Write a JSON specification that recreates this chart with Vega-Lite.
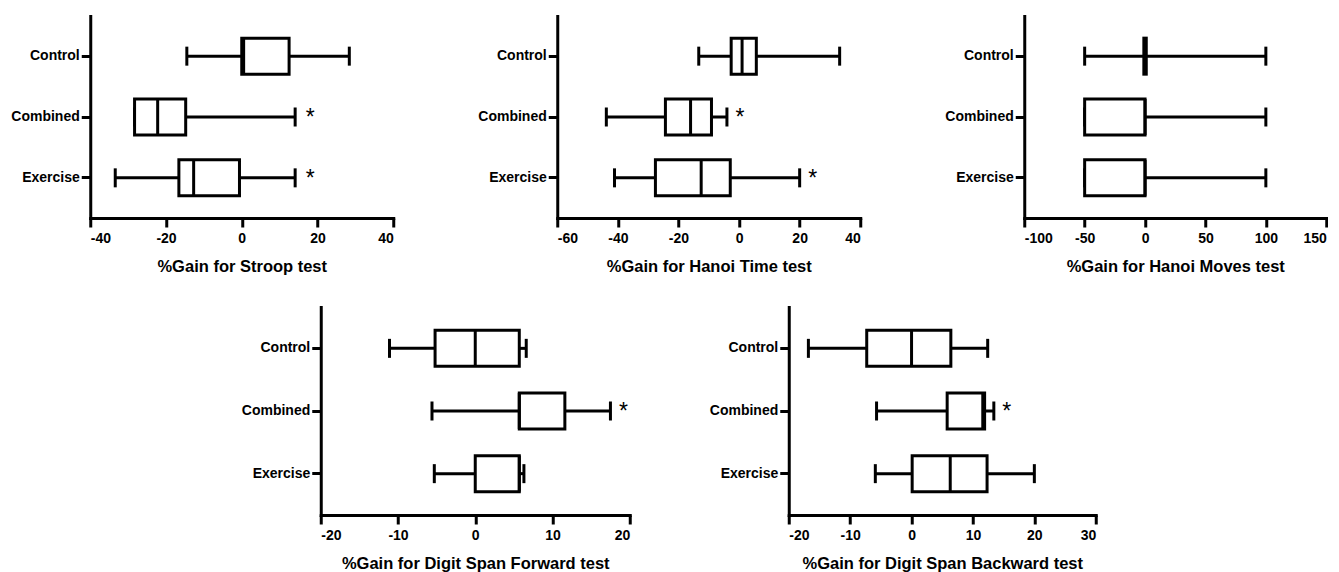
{
  "$schema": "https://vega.github.io/schema/vega-lite/v6.json",
  "padding": {"left": 10, "top": 16, "right": 0, "bottom": 0},
  "background": "white",
  "datasets": {
    "stats": [
      {"test": "Stroop", "group": "Control", "min": -14.5, "q1": 0, "median": 0.5, "q3": 12.5, "max": 28.4, "sig": false},
      {"test": "Stroop", "group": "Combined", "min": -28.3, "q1": -28.3, "median": -22.2, "q3": -14.8, "max": 14.1, "sig": true},
      {"test": "Stroop", "group": "Exercise", "min": -33.4, "q1": -16.6, "median": -12.7, "q3": -0.6, "max": 14.1, "sig": true},
      {"test": "HanoiTime", "group": "Control", "min": -13.3, "q1": -2.6, "median": 1.0, "q3": 5.7, "max": 33.2, "sig": false},
      {"test": "HanoiTime", "group": "Combined", "min": -43.8, "q1": -24.3, "median": -16.0, "q3": -9.1, "max": -4.0, "sig": true},
      {"test": "HanoiTime", "group": "Exercise", "min": -41.1, "q1": -27.6, "median": -12.5, "q3": -2.9, "max": 20.0, "sig": true},
      {"test": "HanoiMoves", "group": "Control", "min": -50, "q1": -1, "median": 0, "q3": 1, "max": 100, "sig": false},
      {"test": "HanoiMoves", "group": "Combined", "min": -50, "q1": -50, "median": 0, "q3": 0, "max": 100, "sig": false},
      {"test": "HanoiMoves", "group": "Exercise", "min": -50, "q1": -50, "median": 0, "q3": 0, "max": 100, "sig": false},
      {"test": "DSF", "group": "Control", "min": -11.1, "q1": -5.2, "median": 0, "q3": 5.7, "max": 6.6, "sig": false},
      {"test": "DSF", "group": "Combined", "min": -5.6, "q1": 5.7, "median": 5.7, "q3": 11.6, "max": 17.5, "sig": true},
      {"test": "DSF", "group": "Exercise", "min": -5.3, "q1": 0, "median": 5.7, "q3": 5.7, "max": 6.3, "sig": false},
      {"test": "DSB", "group": "Control", "min": -16.8, "q1": -7.3, "median": 0, "q3": 6.4, "max": 12.4, "sig": false},
      {"test": "DSB", "group": "Combined", "min": -5.7, "q1": 5.8, "median": 11.6, "q3": 11.9, "max": 13.4, "sig": true},
      {"test": "DSB", "group": "Exercise", "min": -5.9, "q1": 0.1, "median": 6.3, "q3": 12.3, "max": 20.0, "sig": false}
    ]
  },
  "config": {
    "view": {"stroke": null},
    "font": "Liberation Sans",
    "axis": {
      "domainColor": "black", "domainWidth": 3, "domainCap": "square",
      "tickColor": "black", "tickWidth": 3, "tickSize": 9,
      "labelColor": "black", "labelFont": "Liberation Sans", "labelFontSize": 14, "labelFontWeight": "bold",
      "titleColor": "black", "titleFont": "Liberation Sans", "titleFontSize": 16.5, "titleFontWeight": "bold",
      "grid": false
    },
    "axisX": {"labelPadding": 4, "titlePadding": 13, "labelExpr": "'' + datum.value"},
    "axisY": {"labelPadding": 2, "title": null}
  },
  "vconcat": [
    {
      "hconcat": [
        {
          "width": 303, "height": 202,
          "data": {"name": "stats"},
          "transform": [{"filter": "datum.test === 'Stroop'"}],
          "encoding": {"y": {"field": "group", "type": "nominal", "sort": ["Control", "Combined", "Exercise"], "scale": {"paddingInner": 0.4, "paddingOuter": 0.36}, "title": null}},
          "layer": [
            {"mark": {"type": "rule", "strokeWidth": 3, "color": "black"}, "encoding": {"x": {"field": "min", "type": "quantitative", "scale": {"domain": [-40, 40], "nice": false}, "axis": {"values": [-40, -20, 0, 20, 40]}, "title": "%Gain for Stroop test"}, "x2": {"field": "q1"}}},
            {"mark": {"type": "rule", "strokeWidth": 3, "color": "black"}, "encoding": {"x": {"field": "q3", "type": "quantitative", "title": "%Gain for Stroop test"}, "x2": {"field": "max"}}},
            {"mark": {"type": "tick", "size": 19, "thickness": 3, "color": "black", "opacity": 1}, "encoding": {"x": {"field": "min", "type": "quantitative", "title": "%Gain for Stroop test"}}},
            {"mark": {"type": "tick", "size": 19, "thickness": 3, "color": "black", "opacity": 1}, "encoding": {"x": {"field": "max", "type": "quantitative", "title": "%Gain for Stroop test"}}},
            {"mark": {"type": "bar", "size": 36, "fill": "white", "stroke": "black", "strokeWidth": 3}, "encoding": {"x": {"field": "q1", "type": "quantitative", "title": "%Gain for Stroop test"}, "x2": {"field": "q3"}}},
            {"mark": {"type": "tick", "size": 36, "thickness": 3, "color": "black", "opacity": 1}, "encoding": {"x": {"field": "median", "type": "quantitative", "title": "%Gain for Stroop test"}}},
            {"transform": [{"filter": "datum.sig"}], "mark": {"type": "text", "text": "*", "dx": 15, "dy": 1, "fontSize": 23, "color": "black"}, "encoding": {"x": {"field": "max", "type": "quantitative", "title": "%Gain for Stroop test"}}}
          ]
        },
        {
          "width": 303, "height": 202,
          "data": {"name": "stats"},
          "transform": [{"filter": "datum.test === 'HanoiTime'"}],
          "encoding": {"y": {"field": "group", "type": "nominal", "sort": ["Control", "Combined", "Exercise"], "scale": {"paddingInner": 0.4, "paddingOuter": 0.36}, "title": null}},
          "layer": [
            {"mark": {"type": "rule", "strokeWidth": 3, "color": "black"}, "encoding": {"x": {"field": "min", "type": "quantitative", "scale": {"domain": [-60, 40], "nice": false}, "axis": {"values": [-60, -40, -20, 0, 20, 40]}, "title": "%Gain for Hanoi Time test"}, "x2": {"field": "q1"}}},
            {"mark": {"type": "rule", "strokeWidth": 3, "color": "black"}, "encoding": {"x": {"field": "q3", "type": "quantitative", "title": "%Gain for Hanoi Time test"}, "x2": {"field": "max"}}},
            {"mark": {"type": "tick", "size": 19, "thickness": 3, "color": "black", "opacity": 1}, "encoding": {"x": {"field": "min", "type": "quantitative", "title": "%Gain for Hanoi Time test"}}},
            {"mark": {"type": "tick", "size": 19, "thickness": 3, "color": "black", "opacity": 1}, "encoding": {"x": {"field": "max", "type": "quantitative", "title": "%Gain for Hanoi Time test"}}},
            {"mark": {"type": "bar", "size": 36, "fill": "white", "stroke": "black", "strokeWidth": 3}, "encoding": {"x": {"field": "q1", "type": "quantitative", "title": "%Gain for Hanoi Time test"}, "x2": {"field": "q3"}}},
            {"mark": {"type": "tick", "size": 36, "thickness": 3, "color": "black", "opacity": 1}, "encoding": {"x": {"field": "median", "type": "quantitative", "title": "%Gain for Hanoi Time test"}}},
            {"transform": [{"filter": "datum.sig"}], "mark": {"type": "text", "text": "*", "dx": 13, "dy": 1, "fontSize": 23, "color": "black"}, "encoding": {"x": {"field": "max", "type": "quantitative", "title": "%Gain for Hanoi Time test"}}}
          ]
        },
        {
          "width": 302, "height": 202,
          "data": {"name": "stats"},
          "transform": [{"filter": "datum.test === 'HanoiMoves'"}],
          "encoding": {"y": {"field": "group", "type": "nominal", "sort": ["Control", "Combined", "Exercise"], "scale": {"paddingInner": 0.4, "paddingOuter": 0.36}, "title": null}},
          "layer": [
            {"mark": {"type": "rule", "strokeWidth": 3, "color": "black"}, "encoding": {"x": {"field": "min", "type": "quantitative", "scale": {"domain": [-100, 150], "nice": false}, "axis": {"values": [-100, -50, 0, 50, 100, 150]}, "title": "%Gain for Hanoi Moves test"}, "x2": {"field": "q1"}}},
            {"mark": {"type": "rule", "strokeWidth": 3, "color": "black"}, "encoding": {"x": {"field": "q3", "type": "quantitative", "title": "%Gain for Hanoi Moves test"}, "x2": {"field": "max"}}},
            {"mark": {"type": "tick", "size": 19, "thickness": 3, "color": "black", "opacity": 1}, "encoding": {"x": {"field": "min", "type": "quantitative", "title": "%Gain for Hanoi Moves test"}}},
            {"mark": {"type": "tick", "size": 19, "thickness": 3, "color": "black", "opacity": 1}, "encoding": {"x": {"field": "max", "type": "quantitative", "title": "%Gain for Hanoi Moves test"}}},
            {"mark": {"type": "bar", "size": 36, "fill": "white", "stroke": "black", "strokeWidth": 3}, "encoding": {"x": {"field": "q1", "type": "quantitative", "title": "%Gain for Hanoi Moves test"}, "x2": {"field": "q3"}}},
            {"mark": {"type": "tick", "size": 36, "thickness": 3, "color": "black", "opacity": 1}, "encoding": {"x": {"field": "median", "type": "quantitative", "title": "%Gain for Hanoi Moves test"}}}
          ]
        }
      ],
      "spacing": 164,
      "bounds": "flush"
    },
    {
      "hconcat": [
        {
          "width": 309, "height": 208,
          "data": {"name": "stats"},
          "transform": [{"filter": "datum.test === 'DSF'"}],
          "encoding": {"y": {"field": "group", "type": "nominal", "sort": ["Control", "Combined", "Exercise"], "scale": {"paddingInner": 0.4, "paddingOuter": 0.36}, "title": null}},
          "layer": [
            {"mark": {"type": "rule", "strokeWidth": 3, "color": "black"}, "encoding": {"x": {"field": "min", "type": "quantitative", "scale": {"domain": [-20, 20], "nice": false}, "axis": {"values": [-20, -10, 0, 10, 20]}, "title": "%Gain for Digit Span Forward test"}, "x2": {"field": "q1"}}},
            {"mark": {"type": "rule", "strokeWidth": 3, "color": "black"}, "encoding": {"x": {"field": "q3", "type": "quantitative", "title": "%Gain for Digit Span Forward test"}, "x2": {"field": "max"}}},
            {"mark": {"type": "tick", "size": 19, "thickness": 3, "color": "black", "opacity": 1}, "encoding": {"x": {"field": "min", "type": "quantitative", "title": "%Gain for Digit Span Forward test"}}},
            {"mark": {"type": "tick", "size": 19, "thickness": 3, "color": "black", "opacity": 1}, "encoding": {"x": {"field": "max", "type": "quantitative", "title": "%Gain for Digit Span Forward test"}}},
            {"mark": {"type": "bar", "size": 36, "fill": "white", "stroke": "black", "strokeWidth": 3}, "encoding": {"x": {"field": "q1", "type": "quantitative", "title": "%Gain for Digit Span Forward test"}, "x2": {"field": "q3"}}},
            {"mark": {"type": "tick", "size": 36, "thickness": 3, "color": "black", "opacity": 1}, "encoding": {"x": {"field": "median", "type": "quantitative", "title": "%Gain for Digit Span Forward test"}}},
            {"transform": [{"filter": "datum.sig"}], "mark": {"type": "text", "text": "*", "dx": 13, "dy": 1, "fontSize": 23, "color": "black"}, "encoding": {"x": {"field": "max", "type": "quantitative", "title": "%Gain for Digit Span Forward test"}}}
          ]
        },
        {
          "width": 307, "height": 208,
          "data": {"name": "stats"},
          "transform": [{"filter": "datum.test === 'DSB'"}],
          "encoding": {"y": {"field": "group", "type": "nominal", "sort": ["Control", "Combined", "Exercise"], "scale": {"paddingInner": 0.4, "paddingOuter": 0.36}, "title": null}},
          "layer": [
            {"mark": {"type": "rule", "strokeWidth": 3, "color": "black"}, "encoding": {"x": {"field": "min", "type": "quantitative", "scale": {"domain": [-20, 30], "nice": false}, "axis": {"values": [-20, -10, 0, 10, 20, 30]}, "title": "%Gain for Digit Span Backward test"}, "x2": {"field": "q1"}}},
            {"mark": {"type": "rule", "strokeWidth": 3, "color": "black"}, "encoding": {"x": {"field": "q3", "type": "quantitative", "title": "%Gain for Digit Span Backward test"}, "x2": {"field": "max"}}},
            {"mark": {"type": "tick", "size": 19, "thickness": 3, "color": "black", "opacity": 1}, "encoding": {"x": {"field": "min", "type": "quantitative", "title": "%Gain for Digit Span Backward test"}}},
            {"mark": {"type": "tick", "size": 19, "thickness": 3, "color": "black", "opacity": 1}, "encoding": {"x": {"field": "max", "type": "quantitative", "title": "%Gain for Digit Span Backward test"}}},
            {"mark": {"type": "bar", "size": 36, "fill": "white", "stroke": "black", "strokeWidth": 3}, "encoding": {"x": {"field": "q1", "type": "quantitative", "title": "%Gain for Digit Span Backward test"}, "x2": {"field": "q3"}}},
            {"mark": {"type": "tick", "size": 36, "thickness": 3, "color": "black", "opacity": 1}, "encoding": {"x": {"field": "median", "type": "quantitative", "title": "%Gain for Digit Span Backward test"}}},
            {"transform": [{"filter": "datum.sig"}], "mark": {"type": "text", "text": "*", "dx": 13, "dy": 1, "fontSize": 23, "color": "black"}, "encoding": {"x": {"field": "max", "type": "quantitative", "title": "%Gain for Digit Span Backward test"}}}
          ]
        }
      ],
      "spacing": 159,
      "bounds": "flush"
    }
  ],
  "center": true,
  "spacing": 32
}
